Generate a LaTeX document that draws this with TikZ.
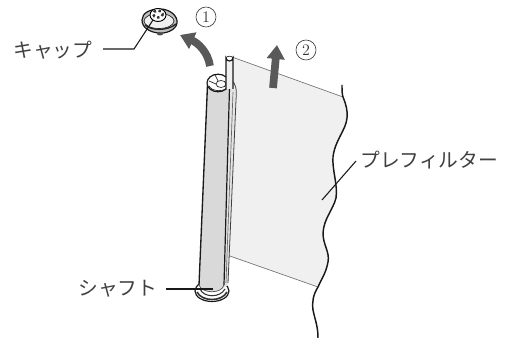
\documentclass[tikz,border=0pt]{standalone}
\usepackage{fontspec}
\usepackage{xcolor}
\newfontfamily\cjk{Noto Sans CJK JP}
\usetikzlibrary{arrows.meta,positioning,calc}
\definecolor{filtergray}{gray}{0.94}
\definecolor{tubegray}{gray}{0.85}
\definecolor{arrowgray}{gray}{0.35}
\begin{document}
\begin{tikzpicture}[
    x=0.75pt, y=-0.75pt,
    label/.style={font=\cjk\fontsize{14.8}{15}\selectfont, inner sep=0pt, text=black!75},
    num/.style={circle, draw=black!75, line width=0.5pt, font=\fontsize{12}{13}\selectfont, inner sep=0pt, minimum size=15pt, text=black!80},
    leader/.style={line width=0.8pt, black!90},
    part/.style={line width=0.9pt, black!90},
    thinpart/.style={line width=0.5pt, black!85},
    bigarr/.style={-{Triangle[width=13pt,length=10.5pt]}, line width=5.8pt, arrowgray}
]
\useasboundingbox (0,0) rectangle (507,338);
% filter sheet
\fill[filtergray] (232,57) -- (343,97) .. controls (346,104) and (348,112) .. (347,118) .. controls (346,130) and (335,140) .. (333,157) .. controls (332,170) and (338,185) .. (336,198) .. controls (333,210) and (324,218) .. (323,233) .. controls (323,245) and (330,252) .. (328,262) .. controls (326,273) and (322,278) .. (318,287) -- (227,255) -- cycle;
\draw[line width=0.5pt, black!55] (232,57) -- (343,97);
\draw[line width=0.5pt, black!55] (227,255) -- (318,287);
\draw[line width=1.1pt, black!90] (342,85) .. controls (342,90) and (342,94) .. (343,97) .. controls (346,104) and (348,112) .. (347,118) .. controls (346,130) and (335,140) .. (333,157) .. controls (332,170) and (338,185) .. (336,198) .. controls (333,210) and (324,218) .. (323,233) .. controls (323,245) and (330,252) .. (328,262) .. controls (326,273) and (322,278) .. (318,287) .. controls (313,295) and (312,302) .. (313,310) .. controls (315,320) and (318,326) .. (318,338);
% bottom cap
\draw[part, fill=white] (212,291) ellipse[x radius=17, y radius=10.5];
\draw[line width=1.2pt, black!80] (197,292) .. controls (202,302) and (222,302) .. (227,292);
\draw[line width=0.8pt, black!80] (200,289) .. controls (204,298) and (220,298) .. (225,289);
% shaft
\fill[black!10] (229,88) -- (236,90) -- (228,285) -- (223,288) -- cycle;
\draw[line width=0.6pt, black!75] (231,80) .. controls (236,83) and (237,90) .. (236,100) -- (228,283);
\draw[line width=0.5pt, black!60] (233,92) -- (226,283);
\fill[tubegray] (207,84) -- (229,84) -- (224,285) .. controls (222,294) and (202,294) .. (199,285) -- cycle;
\draw[line width=1pt, black!90] (207.5,85) -- (199,285);
\draw[part] (229.5,88) -- (224,285);
\draw[line width=0.5pt, black!70] (224,285) .. controls (222,294) and (202,294) .. (199,285);
% rod and roll end
\draw[part, fill=white] (218,83) ellipse[x radius=11, y radius=8.8];
\draw[thinpart] (209,86) .. controls (212,92) and (224,92) .. (228,87);
\draw[thinpart, fill=white] (221,84) ellipse[x radius=5, y radius=3.5];
\draw[thinpart] (209,81) -- (216,84) (226,86) -- (229,88) (215,75) -- (218,81);
\draw[part, fill=filtergray] (226,89) -- (226,58) arc[start angle=180, end angle=0, x radius=3.5, y radius=3] -- (233,89);
\draw[thinpart] (226,58) arc[start angle=180, end angle=360, x radius=3.5, y radius=1.8];
% top cap
\draw[part, fill=black!25] (142,20) .. controls (142,13) and (150,9) .. (160,9) .. controls (170,9) and (178,16) .. (177,23) .. controls (176,30) and (166,34) .. (158,33) .. controls (150,32) and (142,28) .. (142,20) -- cycle;
\draw[thinpart, fill=black!6] (159,21) ellipse[x radius=15, y radius=7.5];
\draw[line width=0.7pt, fill=white] (158,15) ellipse[x radius=8, y radius=6.5];
\draw[line width=1.8pt, dotted, black!80] (158,14) ellipse[x radius=5, y radius=3.5];
\draw[line width=1pt, black!85] (145,25) .. controls (151,31) and (168,31) .. (176,24);
\fill[black!70] (160,34) ellipse[x radius=3, y radius=1.5];
% arrows
\coordinate (arrowa) at (210,66);
\coordinate (arrowb) at (180,35);
\draw[bigarr] (arrowa) .. controls (208,52) and (198,43) .. (arrowb);
\draw[bigarr] (273,88) -- (277,45);
% labels
\node[label, anchor=west] (capLabel) at (13,50) {キャップ};
\node[label, anchor=west] (shaftLabel) at (78,289) {シャフト};
\node[label, anchor=west] (filterLabel) at (360,160) {プレフィルター};
\node[num] (stepOne) at (206,17) {1};
\node[num] (stepTwo) at (306,50) {2};
% leaders
\coordinate (capStart) at (103,49);
\coordinate (capBend) at (134,49);
\coordinate (capEnd) at (153,20);
\coordinate (shaftStart) at (166,289);
\coordinate (shaftEnd) at (213,289);
\coordinate (filterStart) at (356,161);
\coordinate (filterEnd) at (322,200);
\draw[leader] (capStart) -- (capBend) -- (capEnd);
\draw[leader] (shaftStart) -- (shaftEnd);
\draw[leader] (filterStart) -- (filterEnd);
\end{tikzpicture}
\end{document}
